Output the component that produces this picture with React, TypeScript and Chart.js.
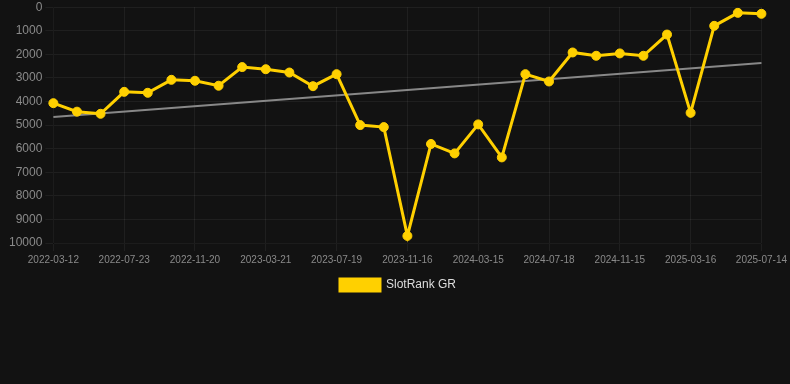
import React, { useEffect, useRef } from "react";
import { Chart, registerables } from "chart.js";

Chart.register(...registerables);

const dates = [
  "2022-03-12", "2022-04-25", "2022-06-08", "2022-07-23", "2022-09-01", "2022-10-11",
  "2022-11-20", "2022-12-30", "2023-02-09", "2023-03-21", "2023-04-30", "2023-06-09",
  "2023-07-19", "2023-08-28", "2023-10-07", "2023-11-16", "2023-12-26", "2024-02-04",
  "2024-03-15", "2024-04-26", "2024-06-06", "2024-07-18", "2024-08-27", "2024-10-06",
  "2024-11-15", "2024-12-25", "2025-02-04", "2025-03-16", "2025-04-25", "2025-06-04",
  "2025-07-14",
];

const rankValues = [
  4070, 4430, 4520, 3590, 3630, 3080, 3120, 3330, 2540, 2630, 2770, 3350, 2840,
  5000, 5085, 9700, 5800, 6200, 4970, 6370, 2840, 3150, 1920, 2060, 1960, 2060,
  1160, 4480, 790, 240, 280,
];

const trendStart = 4660;
const trendEnd = 2370;

const yTicks = [0, 1000, 2000, 3000, 4000, 5000, 6000, 7000, 8000, 9000, 10000];

export default function App() {
  const ref = useRef<HTMLCanvasElement | null>(null);

  useEffect(() => {
    document.body.style.margin = "0";
    document.body.style.background = "#121212";
    const trend = dates.map((_, i) =>
      i === 0 ? trendStart : i === dates.length - 1 ? trendEnd : null
    );
    const chart = new Chart(ref.current!, {
      type: "line",
      data: {
        labels: dates,
        datasets: [
          {
            label: "SlotRank GR",
            data: rankValues,
            borderColor: "#FFD000",
            backgroundColor: "#FFD000",
            borderWidth: 3,
            pointRadius: 4.5,
            pointBorderWidth: 1,
            pointBackgroundColor: "#FFD000",
            pointBorderColor: "#FFD000",
            tension: 0,
          },
          {
            label: "trend",
            data: trend,
            borderColor: "#888888",
            borderWidth: 2,
            pointRadius: 0,
            spanGaps: true,
            fill: false,
          },
        ],
      },
      options: {
        animation: false,
        responsive: false,
        maintainAspectRatio: false,
        layout: { padding: { left: 6, right: 0, top: 0, bottom: 0 } },
        scales: {
          x: {
            grid: { color: "rgba(255,255,255,0.06)" },
            ticks: {
              color: "#8a8a8a",
              font: { family: "Liberation Sans, Arial", size: 10 },
              autoSkip: false,
              maxRotation: 0,
              callback: (_v: any, i: number) => (i % 3 === 0 ? dates[i] : null),
            },
          },
          y: {
            reverse: true,
            min: 0,
            max: 10000,
            afterBuildTicks: (axis: any) => {
              axis.ticks = yTicks.map((v) => ({ value: v }));
            },
            grid: { color: "rgba(255,255,255,0.06)" },
            ticks: {
              color: "#8a8a8a",
              font: { family: "Liberation Sans, Arial", size: 12, lineHeight: 0.7 },
              callback: (v: any) => String(v),
            },
          },
        },
        plugins: {
          legend: {
            position: "bottom",
            labels: {
              color: "#dddddd",
              font: { family: "Liberation Sans, Arial", size: 12 },
              boxWidth: 40,
              boxHeight: 12,
              filter: (item: any) => item.datasetIndex === 0,
            },
          },
          tooltip: { enabled: false },
        },
      },
    });
    return () => chart.destroy();
  }, []);

  return (
    <div style={{ width: 790, height: 384, background: "#121212" }}>
      <canvas ref={ref} width={790} height={301} style={{ display: "block" }} />
    </div>
  );
}
